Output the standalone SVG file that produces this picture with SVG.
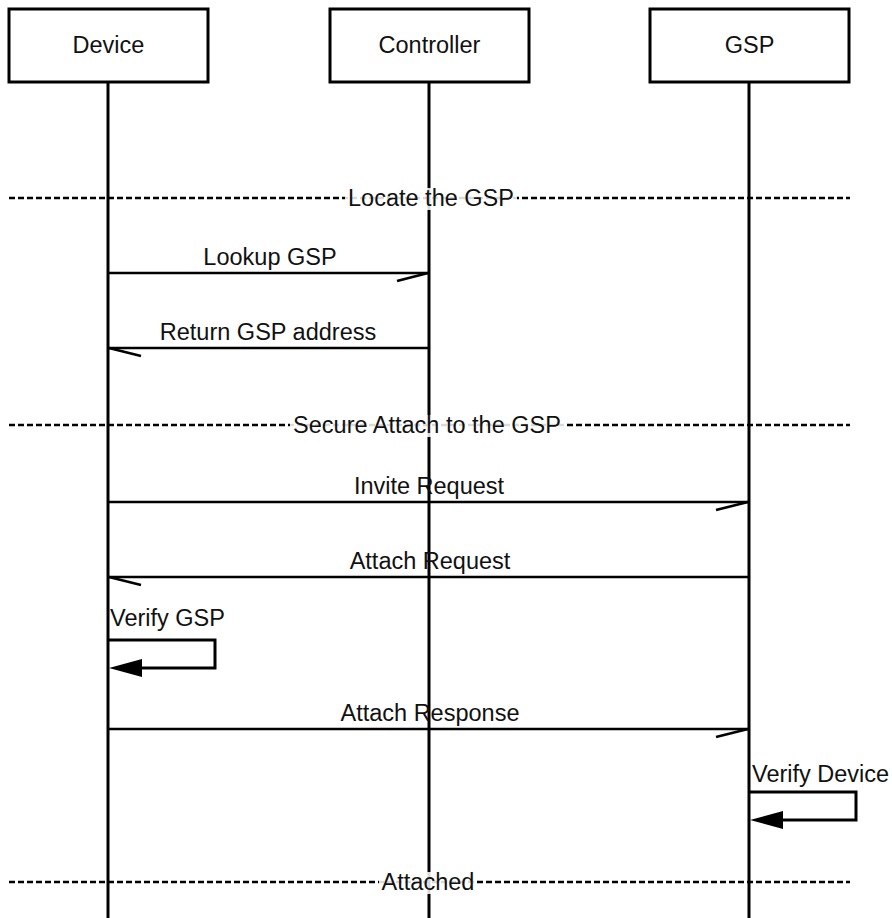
<svg xmlns="http://www.w3.org/2000/svg" width="892" height="918" viewBox="0 0 892 918">
<style>
text{font-family:"Liberation Sans",Arial,sans-serif;font-size:23.5px;fill:#111}
.box{fill:#fff;stroke:#000;stroke-width:3}
.life{stroke:#000;stroke-width:3;fill:none}
.msg{stroke:#000;stroke-width:2.4;fill:none}
.head{stroke:#000;stroke-width:2.6;fill:none}
.dash{stroke:#000;stroke-width:2.4;stroke-dasharray:6 3;fill:none}
.lbg{fill:#fff;fill-opacity:0.85}
.loop{stroke:#000;stroke-width:3;fill:none}
.c{text-anchor:middle}
</style>
<rect width="892" height="918" fill="#fff"/>
<g id="lifelines">
<line class="life" x1="108" y1="82" x2="108" y2="918"/>
<line class="life" x1="429" y1="82" x2="429" y2="918"/>
<line class="life" x1="749" y1="82" x2="749" y2="918"/>
</g>
<g id="device"><rect class="box" x="9" y="9" width="199" height="73"/><text class="c" x="108.5" y="53">Device</text></g>
<g id="controller"><rect class="box" x="330" y="9" width="199" height="73"/><text class="c" x="429.5" y="53">Controller</text></g>
<g id="gsp"><rect class="box" x="650" y="9" width="199" height="73"/><text class="c" x="749.5" y="53">GSP</text></g>
<g id="connectors">
<line class="dash" x1="9" y1="198" x2="850" y2="198"/>
<rect class="lbg" x="345" y="188" width="172" height="22"/>
<text class="c" x="431" y="206">Locate the GSP</text>

<line class="msg" x1="108" y1="273" x2="429" y2="273"/>
<line class="head" x1="428" y1="273" x2="397" y2="281"/>
<text class="c" x="270" y="265">Lookup GSP</text>

<line class="msg" x1="429" y1="348" x2="108" y2="348"/>
<line class="head" x1="109" y1="348" x2="141" y2="356"/>
<text class="c" x="268" y="340">Return GSP address</text>

<line class="dash" x1="9" y1="425" x2="850" y2="425"/>
<rect class="lbg" x="290" y="415" width="274" height="22"/>
<text class="c" x="427" y="433">Secure Attach to the GSP</text>

<line class="msg" x1="108" y1="502" x2="749" y2="502"/>
<line class="head" x1="748" y1="502" x2="716" y2="510"/>
<text class="c" x="429" y="494">Invite Request</text>

<line class="msg" x1="749" y1="577" x2="108" y2="577"/>
<line class="head" x1="109" y1="577" x2="141" y2="585"/>
<text class="c" x="430" y="569">Attach Request</text>

<text x="110" y="626">Verify GSP</text>
<polyline class="loop" points="108,640 215,640 215,668 130,668"/>
<polygon points="109,668 142,659 142,677" fill="#000"/>

<line class="msg" x1="108" y1="729" x2="749" y2="729"/>
<line class="head" x1="748" y1="729" x2="716" y2="737"/>
<text class="c" x="430" y="721">Attach Response</text>

<text x="752" y="782">Verify Device</text>
<polyline class="loop" points="749,792 856,792 856,820 770,820"/>
<polygon points="750,820 783,811 783,829" fill="#000"/>

<line class="dash" x1="9" y1="882" x2="850" y2="882"/>
<rect class="lbg" x="379" y="872" width="96" height="22"/>
<text class="c" x="428" y="890">Attached</text>
</g>
</svg>
